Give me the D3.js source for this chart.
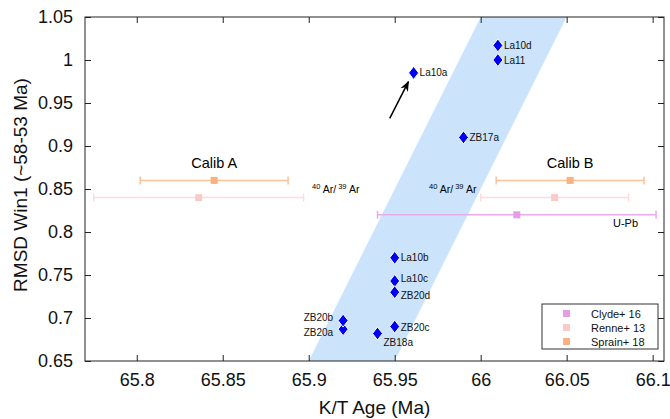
<!DOCTYPE html>
<html>
<head>
<meta charset="utf-8">
<script src="https://cdn.jsdelivr.net/npm/d3@7"></script>
<style>
  body { margin: 0; background: #fff; }
  svg { display: block; font-family: "Liberation Sans", Arial, sans-serif; }
</style>
</head>
<body>
<svg id="chart"></svg>
<script>
// Samples: K/T age (Ma) against RMSD of window 1
const sampleNames = ["La10d", "La11", "La10a", "ZB17a", "La10b", "La10c", "ZB20d", "ZB20c", "ZB20a", "ZB20b", "ZB18a"];
const sampleAges  = [66.01, 66.01, 65.961, 65.99, 65.95, 65.95, 65.95, 65.95, 65.92, 65.92, 65.94];
const sampleRmsd  = [1.017, 1.0, 0.985, 0.91, 0.77, 0.743, 0.73, 0.69, 0.687, 0.697, 0.682];
// label side and vertical nudge (px) for each sample label
const labelSide   = ["r", "r", "r", "r", "r", "r", "r", "r", "l", "l", "r"];
const labelDy     = [0, 0, 0, 0, 0, -3, 3, 1, 3, -3, 9];

// Band of consistent ages (parallelogram corners in data units)
const bandAges = [65.9, 65.95, 66.05, 66.0];
const bandRmsd = [0.65, 0.65, 1.05, 1.05];

// Radiometric ages: centre and half-width (Ma), row RMSD
const refNames  = ["Clyde+ 16", "Renne+ 13", "Sprain+ 18"];
const refColors = ["#e59de6", "#fcc9c9", "#fbb07f"];
const refLines  = ["#e9aaea", "#fcdcdc", "#fbc198"];
const refAgeA   = [null, 65.836, 65.845];
const refErrA   = [null, 0.061, 0.043];
const refAgeB   = [66.021, 66.043, 66.052];
const refErrB   = [0.081, 0.043, 0.043];
const refRmsd   = [0.82, 0.84, 0.86];

const xTicks = [65.8, 65.85, 65.9, 65.95, 66, 66.05, 66.1];
const yTicks = [0.65, 0.7, 0.75, 0.8, 0.85, 0.9, 0.95, 1, 1.05];

// arrow pointing at La10a (tail, head)
const arrowAges = [65.9471, 65.958];
const arrowRmsd = [0.9322, 0.9748];

const width = 670, height = 419;
const margin = {left: 85, right: 6, top: 17, bottom: 58};

const svg = d3.select("#chart").attr("width", width).attr("height", height);

const x = d3.scaleLinear().domain([65.7699, 66.1066]).range([margin.left, width - margin.right]);
const y = d3.scaleLinear().domain([0.65, 1.05]).range([height - margin.bottom, margin.top]);

const defs = svg.append("defs");
defs.append("marker")
    .attr("id", "head")
    .attr("viewBox", "0 0 10 10")
    .attr("refX", 9).attr("refY", 5)
    .attr("markerWidth", 7).attr("markerHeight", 7)
    .attr("orient", "auto")
  .append("path")
    .attr("d", "M0,1 L10,5 L0,9 L3,5 Z")
    .attr("fill", "#000");

// the blue band
svg.append("path")
    .attr("d", d3.line()(bandAges.map((a, i) => [x(a), y(bandRmsd[i])])) + "Z")
    .attr("fill", "#cbe4fb");

// error bars
function errorBar(age, err, r, i) {
  const g = svg.append("g");
  const cy = y(r);
  g.append("line")
      .attr("x1", x(age - err)).attr("x2", x(age + err))
      .attr("y1", cy).attr("y2", cy)
      .attr("stroke", refLines[i]).attr("stroke-width", 1.5);
  [age - err, age + err].forEach(v => {
    g.append("line")
        .attr("x1", x(v)).attr("x2", x(v))
        .attr("y1", cy - 4).attr("y2", cy + 4)
        .attr("stroke", refLines[i]).attr("stroke-width", 1.5);
  });
  g.append("rect")
      .attr("x", x(age) - 3.5).attr("y", cy - 3.5)
      .attr("width", 7).attr("height", 7)
      .attr("fill", refColors[i]);
}
refNames.forEach((n, i) => {
  if (refAgeA[i] !== null) errorBar(refAgeA[i], refErrA[i], refRmsd[i], i);
  errorBar(refAgeB[i], refErrB[i], refRmsd[i], i);
});

// annotation text
svg.append("text").attr("x", x(65.845)).attr("y", 168)
    .attr("text-anchor", "middle").attr("font-size", 14.5).text("Calib A");
svg.append("text").attr("x", x(66.052)).attr("y", 168)
    .attr("text-anchor", "middle").attr("font-size", 14.5).text("Calib B");
svg.append("text").attr("x", 613).attr("y", 227)
    .attr("font-size", 11).text("U-Pb");

function arLabel(px) {
  const t = svg.append("text").attr("x", px).attr("y", 193).attr("font-size", 10.5);
  t.append("tspan").attr("font-size", 7.5).attr("dy", -4).text("40");
  t.append("tspan").attr("dy", 4).text(" Ar/");
  t.append("tspan").attr("font-size", 7.5).attr("dy", -4).text(" 39");
  t.append("tspan").attr("dy", 4).text(" Ar");
}
arLabel(312);
arLabel(429);

// arrow
svg.append("line")
    .attr("x1", x(arrowAges[0])).attr("y1", y(arrowRmsd[0]))
    .attr("x2", x(arrowAges[1])).attr("y2", y(arrowRmsd[1]))
    .attr("stroke", "#000").attr("stroke-width", 1.5)
    .attr("marker-end", "url(#head)");

// sample diamonds and labels
const diamond = "M0,-6.5 L5,0 L0,6.5 L-5,0 Z";
sampleNames.forEach((n, i) => {
  const px = x(sampleAges[i]), py = y(sampleRmsd[i]);
  svg.append("path")
      .attr("d", diamond)
      .attr("transform", "translate(" + px + "," + py + ")")
      .attr("fill", "#0000f5")
      .attr("stroke", "#fff").attr("stroke-width", 1);
});
sampleNames.forEach((n, i) => {
  const px = x(sampleAges[i]), py = y(sampleRmsd[i]);
  const left = labelSide[i] === "l";
  svg.append("text")
      .attr("x", left ? px - 10 : px + 6)
      .attr("y", py + labelDy[i] + 3.5)
      .attr("text-anchor", left ? "end" : "start")
      .attr("font-size", 10)
      .attr("fill", "#111")
      .text(n);
});

// frame
svg.append("rect")
    .attr("x", margin.left).attr("y", margin.top)
    .attr("width", width - margin.right - margin.left)
    .attr("height", height - margin.bottom - margin.top)
    .attr("fill", "none").attr("stroke", "#222").attr("stroke-width", 1);

// axes with inward ticks, mirrored
const xAxis = d3.axisBottom(x).tickValues(xTicks).tickSize(-6).tickPadding(12).tickFormat(d3.format(""));
const yAxis = d3.axisLeft(y).tickValues(yTicks).tickSize(-6).tickPadding(12).tickFormat(d3.format(""));

const gx = svg.append("g").attr("transform", "translate(0," + (height - margin.bottom) + ")").call(xAxis);
const gy = svg.append("g").attr("transform", "translate(" + margin.left + ",0)").call(yAxis);
svg.append("g").attr("transform", "translate(0," + margin.top + ")")
    .call(d3.axisTop(x).tickValues(xTicks).tickSize(-6).tickFormat(""));
svg.append("g").attr("transform", "translate(" + (width - margin.right) + ",0)")
    .call(d3.axisRight(y).tickValues(yTicks).tickSize(-6).tickFormat(""));

svg.selectAll(".domain").remove();
svg.selectAll(".tick line").attr("stroke", "#222");
gx.selectAll("text").attr("font-size", 18).attr("fill", "#111").attr("font-family", "Liberation Sans, Arial, sans-serif");
gy.selectAll("text").attr("font-size", 18).attr("fill", "#111").attr("font-family", "Liberation Sans, Arial, sans-serif");

// axis titles
svg.append("text")
    .attr("x", (margin.left + width - margin.right) / 2).attr("y", 414)
    .attr("text-anchor", "middle").attr("font-size", 19).attr("fill", "#111")
    .text("K/T Age (Ma)");
svg.append("text")
    .attr("transform", "translate(27," + ((margin.top + height - margin.bottom) / 2 - 4) + ") rotate(-90)")
    .attr("text-anchor", "middle").attr("font-size", 19).attr("fill", "#111")
    .text("RMSD Win1 (~58-53 Ma)");

// legend
const lg = svg.append("g").attr("transform", "translate(542,304)");
lg.append("rect").attr("width", 116).attr("height", 45)
    .attr("fill", "#fff").attr("stroke", "#333").attr("stroke-width", 1);
refNames.forEach((n, i) => {
  lg.append("rect").attr("x", 21).attr("y", 6 + i * 14)
      .attr("width", 7).attr("height", 7).attr("fill", refColors[i]);
  lg.append("text").attr("x", 49).attr("y", 13.5 + i * 14)
      .attr("font-size", 11).attr("fill", "#111").text(n);
});
</script>
</body>
</html>
